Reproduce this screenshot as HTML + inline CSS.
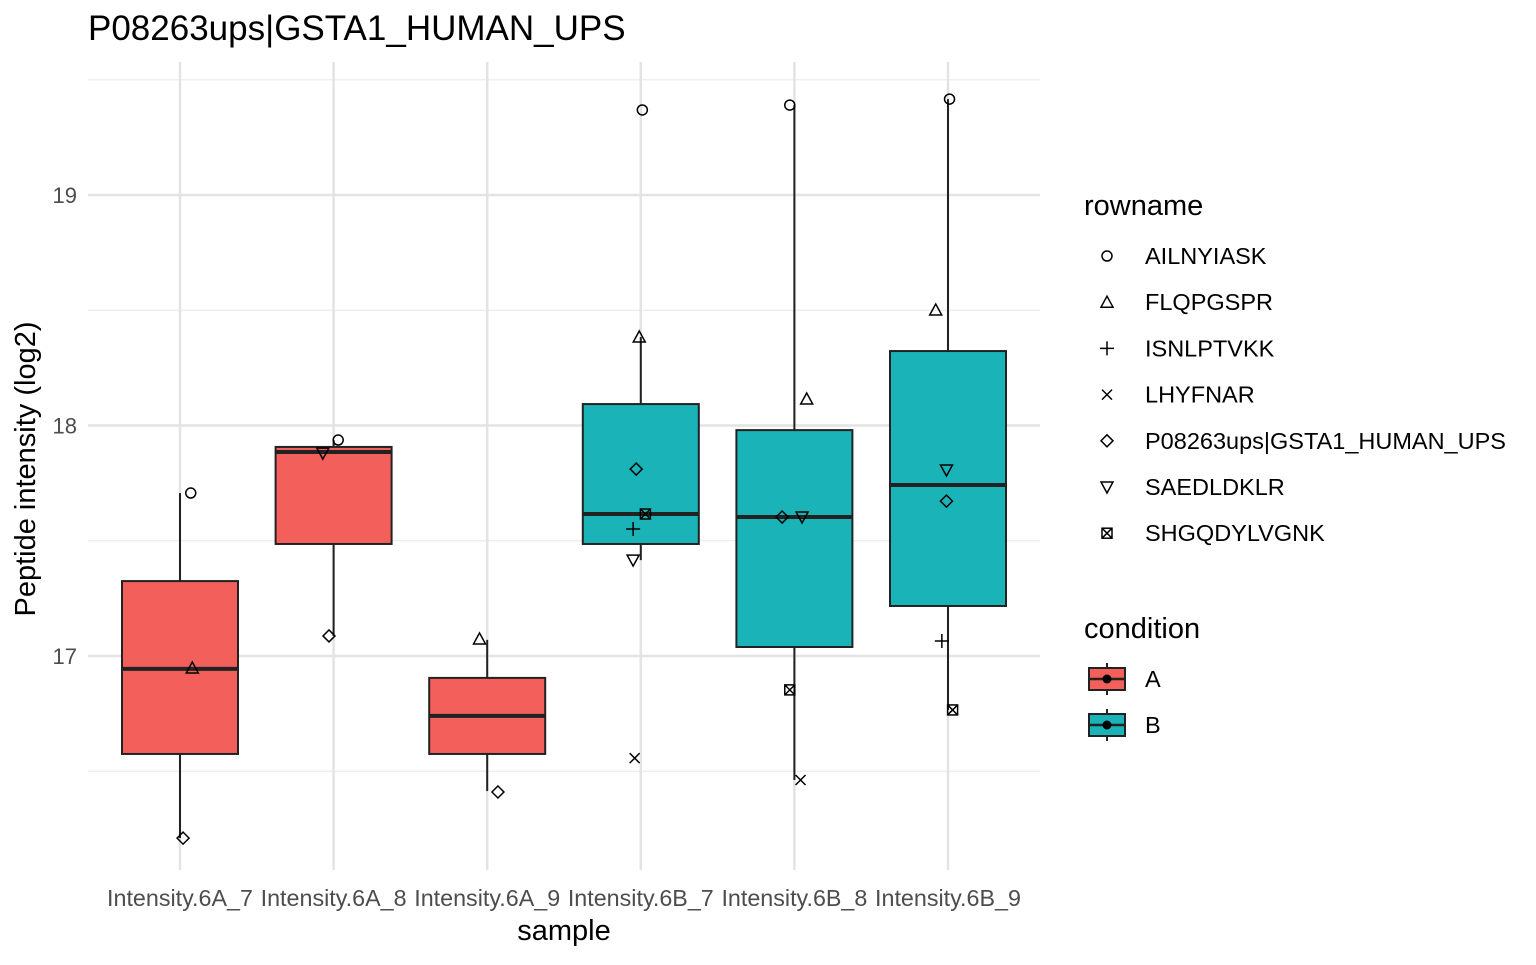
<!DOCTYPE html>
<html><head><meta charset="utf-8"><style>
body{margin:0;background:#fff;}
svg text{font-family:"Liberation Sans",Arial,sans-serif;}
</style></head><body>
<svg id="chart" width="1536" height="960" xmlns="http://www.w3.org/2000/svg">
<rect width="1536" height="960" fill="#fff"/>
<text x="88" y="40" font-size="35" fill="#000">P08263ups|GSTA1_HUMAN_UPS</text>
<g id="grid"></g>
<g id="boxes"></g>
<g id="points"></g>
<g id="axes"></g>
<text x="564" y="940" font-size="29" text-anchor="middle">sample</text>
<text transform="translate(35,469) rotate(-90)" font-size="29" text-anchor="middle">Peptide intensity (log2)</text>
<g id="legend"></g>
</svg>
<script>
const samples=["Intensity.6A_7","Intensity.6A_8","Intensity.6A_9","Intensity.6B_7","Intensity.6B_8","Intensity.6B_9"];
const conditions=["A","A","A","B","B","B"];
const q1=[16.575,17.486,16.575,17.486,17.039,17.217];
const med=[16.944,17.885,16.74,17.616,17.603,17.742];
const q3=[17.325,17.907,16.905,18.093,17.98,18.323];
const wlo=[16.21,17.087,16.414,17.416,16.462,16.766];
const whi=[17.707,17.937,17.07,18.384,19.39,19.416];
const rownames=["AILNYIASK","FLQPGSPR","ISNLPTVKK","LHYFNAR","P08263ups|GSTA1_HUMAN_UPS","SAEDLDKLR","SHGQDYLVGNK"];
const shapes=["circle","tri","plus","cross","diamond","tridown","boxx"];
const vAILNYIASK=[17.707,17.937,null,19.369,19.39,19.416];
const vFLQPGSPR=[16.948,null,17.074,18.384,18.115,18.501];
const vISNLPTVKK=[null,null,null,17.551,null,17.065];
const vLHYFNAR=[null,null,null,16.557,16.462,null];
const vP08263=[16.21,17.087,16.41,17.811,17.603,17.672];
const vSAEDLDKLR=[null,17.88,null,17.416,17.603,17.807];
const vSHGQDYLVGNK=[null,null,null,17.616,16.853,16.766];
const jAILNYIASK=[0.07,0.03,0,0.01,-0.03,0.01];
const jFLQPGSPR=[0.08,0,-0.05,-0.01,0.08,-0.08];
const jISNLPTVKK=[0,0,0,-0.05,0,-0.04];
const jLHYFNAR=[0,0,0,-0.04,0.04,0];
const jP08263=[0.02,-0.03,0.07,-0.03,-0.08,-0.01];
const jSAEDLDKLR=[0,-0.07,0,-0.05,0.05,-0.01];
const jSHGQDYLVGNK=[0,0,0,0.03,-0.03,0.03];
const series=[vAILNYIASK,vFLQPGSPR,vISNLPTVKK,vLHYFNAR,vP08263,vSAEDLDKLR,vSHGQDYLVGNK];
const jit=[jAILNYIASK,jFLQPGSPR,jISNLPTVKK,jLHYFNAR,jP08263,jSAEDLDKLR,jSHGQDYLVGNK];
const yMajor=[17,18,19];
const yMinor=[16.5,17.5,18.5,19.5];
const condNames=["A","B"];
const condFill={"A":"#F35F5B","B":"#19B3B8"};

const NS="http://www.w3.org/2000/svg";
const PL=88,PR=1040,PT=62,PB=870;
const step=153.6;
function xs(i){return 180+step*i;}
function ys(v){return 656-(v-17)*230.5;}
function mk(tag,attrs,parent){const e=document.createElementNS(NS,tag);for(const k in attrs)e.setAttribute(k,attrs[k]);parent.appendChild(e);return e;}
const G=id=>document.getElementById(id);

yMinor.forEach(v=>{const l=mk('line',{x1:PL,x2:PR,y1:ys(v),y2:ys(v),stroke:'#ebebeb','stroke-width':1.3},G('grid'));

});
yMajor.forEach(v=>{const l=mk('line',{x1:PL,x2:PR,y1:ys(v),y2:ys(v),stroke:'#e3e3e3','stroke-width':2.5},G('grid'));


const t=mk('text',{x:77,y:ys(v)+8,'font-size':22,fill:'#4d4d4d','text-anchor':'end'},G('axes'));t.textContent=v;

});
samples.forEach((s,i)=>{const l=mk('line',{x1:xs(i),x2:xs(i),y1:PT,y2:PB,stroke:'#e3e3e3','stroke-width':2.5},G('grid'));


const t=mk('text',{x:xs(i),y:906,'font-size':23.3,fill:'#4d4d4d','text-anchor':'middle'},G('axes'));t.textContent=s;

});

const bw=116;
samples.forEach((s,i)=>{
  const g=mk('g',{},G('boxes'));
  
  
  const x=xs(i);
  mk('line',{x1:x,x2:x,y1:ys(whi[i]),y2:ys(q3[i]),stroke:'#222','stroke-width':2},g);
  mk('line',{x1:x,x2:x,y1:ys(q1[i]),y2:ys(wlo[i]),stroke:'#222','stroke-width':2},g);
  mk('rect',{x:x-bw/2,y:ys(q3[i]),width:bw,height:ys(q1[i])-ys(q3[i]),fill:condFill[conditions[i]],stroke:'#222','stroke-width':2},g);
  mk('line',{x1:x-bw/2,x2:x+bw/2,y1:ys(med[i]),y2:ys(med[i]),stroke:'#222','stroke-width':4},g);
});

function shape(kind,x,y,p){
  const a={fill:'none',stroke:'#000','stroke-width':1.5};
  if(kind==='circle')return mk('circle',Object.assign({cx:x,cy:y,r:5},a),p);
  if(kind==='tri')return mk('polygon',Object.assign({points:`${x},${y-6} ${x+6},${y+5} ${x-6},${y+5}`},a),p);
  if(kind==='tridown')return mk('polygon',Object.assign({points:`${x},${y+6} ${x+6},${y-5} ${x-6},${y-5}`},a),p);
  if(kind==='diamond')return mk('polygon',Object.assign({points:`${x},${y-6} ${x+6},${y} ${x},${y+6} ${x-6},${y}`},a),p);
  if(kind==='plus')return mk('path',Object.assign({d:`M${x-7},${y}H${x+7}M${x},${y-7}V${y+7}`},a),p);
  if(kind==='cross')return mk('path',Object.assign({d:`M${x-5},${y-5}L${x+5},${y+5}M${x+5},${y-5}L${x-5},${y+5}`},a),p);
  if(kind==='boxx'){const g=mk('g',{},p);mk('rect',Object.assign({x:x-5,y:y-5,width:10,height:10},a),g);mk('path',Object.assign({d:`M${x-5},${y-5}L${x+5},${y+5}M${x+5},${y-5}L${x-5},${y+5}`},a),g);return g;}
}
series.forEach((arr,r)=>{arr.forEach((v,i)=>{if(v===null)return;
  const e=shape(shapes[r],xs(i)+jit[r][i]*step,ys(v),G('points'));
  
  });});

const L=G('legend');
let t=mk('text',{x:1084,y:215,'font-size':29},L);t.textContent='rowname';


rownames.forEach((n,r)=>{const y=256+r*46.2;
  const g=mk('g',{},L);
  
  
  shape(shapes[r],1107,y,g);
  const tt=mk('text',{x:1145,y:y+8,'font-size':23.5},g);tt.textContent=n;});
t=mk('text',{x:1084,y:638,'font-size':29},L);t.textContent='condition';


condNames.forEach((c,k)=>{const y=679+k*46;
  const g=mk('g',{},L);
  
  
  mk('line',{x1:1107,x2:1107,y1:y-16,y2:y+16,stroke:'#222','stroke-width':2},g);
  mk('rect',{x:1089,y:y-11,width:36,height:22,fill:condFill[c],stroke:'#222','stroke-width':2},g);
  mk('line',{x1:1089,x2:1125,y1:y,y2:y,stroke:'#222','stroke-width':2.5},g);
  mk('circle',{cx:1107,cy:y,r:4.5,fill:'#000'},g);
  const tt=mk('text',{x:1145,y:y+8,'font-size':23.5},g);tt.textContent=c;});
</script>
</body></html>
